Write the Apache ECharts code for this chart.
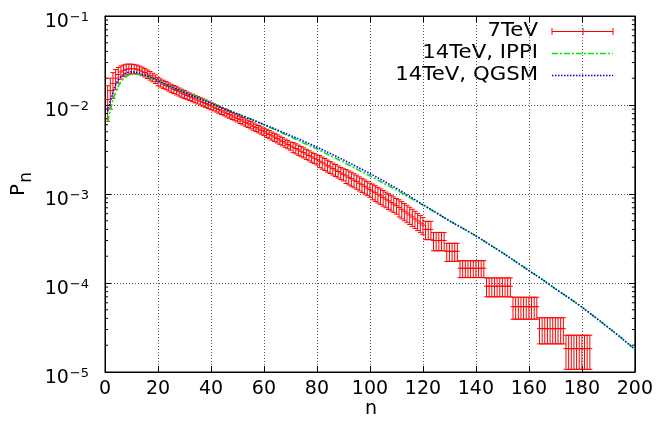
<!DOCTYPE html>
<html><head><meta charset="utf-8">
<script src="https://cdn.jsdelivr.net/npm/echarts@6/dist/echarts.min.js"></script>
<style>html,body{margin:0;padding:0;background:#fff}#c{width:656px;height:434px}</style>
</head><body><div id="c"></div>
<script>
// ---------- data ----------
const xTicks = [0, 20, 40, 60, 80, 100, 120, 140, 160, 180, 200];
const yTicks = [1e-5, 1e-4, 1e-3, 1e-2, 1e-1];
const yMinorTicks = [2e-5,3e-5,4e-5,5e-5,6e-5,7e-5,8e-5,9e-5,
  2e-4,3e-4,4e-4,5e-4,6e-4,7e-4,8e-4,9e-4,
  2e-3,3e-3,4e-3,5e-3,6e-3,7e-3,8e-3,9e-3,
  2e-2,3e-2,4e-2,5e-2,6e-2,7e-2,8e-2,9e-2];

const legendNames = ['7TeV', '14TeV, IPPI', '14TeV, QGSM'];

// 7 TeV measurement: multiplicity n, P_n, relative error
const redN = [1,2,3,4,5,6,7,8,9,10,11,12,13,14,15,16,17,18,19,20,
  21,22,23,24,25,26,27,28,29,30,31,32,33,34,35,36,37,38,39,40,
  41,42,43,44,45,46,47,48,49,50,51,52,53,54,55,56,57,58,59,60,
  61,62,63,64,65,66,67,68,69,70,71,72,73,74,75,76,77,78,79,80,
  81,82,83,84,85,86,87,88,89,90,91,92,93,94,95,96,97,98,99,100,
  101,102,103,104,105,106,107,108,109,110,111,112,113,114,115,116,117,118,119,120,
  121,122,123,124,125,126,127,128,129,130,131,132,133,
  134,135,136,137,138,139,140,141,142,143,
  144,145,146,147,148,149,150,151,152,153,
  154,155,156,157,158,159,160,161,162,163,
  164,165,166,167,168,169,170,171,172,173,
  174,175,176,177,178,179,180,181,182,183];
const redVal = [0.0115,0.0145,0.0175,0.0200,0.0220,0.0235,0.0245,0.0252,0.0255,0.0256,
  0.0255,0.0252,0.0247,0.0240,0.0232,0.0223,0.0214,0.0205,0.0196,0.0184,
  0.01778,0.01718,0.0166,0.01603,0.01549,0.0150,0.01452,0.01406,0.01361,0.01318,
  0.01279,0.01242,0.01205,0.01169,0.01135,0.01102,0.01069,0.01038,0.01007,0.00977,
  0.00946,0.00916,0.00887,0.00859,0.00832,0.00805,0.00780,0.00755,0.00731,0.00708,
  0.00684,0.00661,0.00638,0.00617,0.00596,0.00575,0.00556,0.00537,0.00519,0.00501,
  0.00483,0.00467,0.00450,0.00435,0.00419,0.00404,0.00389,0.00374,0.00360,0.00347,
  0.00335,0.00324,0.00313,0.00302,0.00292,0.00281,0.00271,0.00261,0.00252,0.00243,
  0.00234,0.00225,0.00217,0.00208,0.00201,0.00193,0.00186,0.00179,0.00172,0.00166,
  0.00160,0.00154,0.00149,0.00143,0.00138,0.00132,0.00127,0.00122,0.00117,0.00112,
  0.001076,0.001033,0.000991,0.000951,0.000912,0.000875,0.000839,0.000805,0.000773,0.000741,
  0.000706,0.000673,0.000641,0.000611,0.000582,0.000552,0.000524,0.000497,0.000471,0.000447,
  0.000400,0.000400,0.000400,
  0.000300,0.000300,0.000300,0.000300,0.000300,
  0.000227,0.000227,0.000227,0.000227,0.000227,
  0.0001465,0.0001465,0.0001465,0.0001465,0.0001465,0.0001465,0.0001465,0.0001465,0.0001465,0.0001465,
  0.000092,0.000092,0.000092,0.000092,0.000092,0.000092,0.000092,0.000092,0.000092,0.000092,
  0.0000542,0.0000542,0.0000542,0.0000542,0.0000542,0.0000542,0.0000542,0.0000542,0.0000542,0.0000542,
  0.0000307,0.0000307,0.0000307,0.0000307,0.0000307,0.0000307,0.0000307,0.0000307,0.0000307,0.0000307,
  0.0000183,0.0000183,0.0000183,0.0000183,0.0000183,0.0000183,0.0000183,0.0000183,0.0000183,0.0000183];
const redRelErr = [0.43,0.38,0.32,0.25,0.20,0.17,0.15,0.14,0.13,0.125,
  0.12,0.115,0.11,0.11,0.11,0.11,0.11,0.11,0.11,0.11,
  0.105,0.105,0.105,0.105,0.105,0.105,0.105,0.105,0.105,0.105,
  0.095,0.095,0.095,0.095,0.095,0.095,0.095,0.095,0.095,0.095,
  0.09,0.09,0.09,0.09,0.09,0.09,0.09,0.09,0.09,0.09,
  0.095,0.095,0.095,0.095,0.095,0.095,0.095,0.095,0.095,0.095,
  0.105,0.105,0.105,0.105,0.105,0.105,0.105,0.105,0.105,0.105,
  0.13,0.13,0.13,0.13,0.13,0.13,0.13,0.13,0.13,0.13,
  0.155,0.155,0.155,0.155,0.155,0.155,0.155,0.155,0.155,0.155,
  0.18,0.18,0.18,0.18,0.18,0.18,0.18,0.18,0.18,0.18,
  0.2,0.2,0.2,0.2,0.2,0.2,0.2,0.2,0.2,0.2,
  0.22,0.22,0.22,0.22,0.22,0.22,0.22,0.22,0.22,0.22,
  0.233,0.233,0.233,
  0.233,0.233,0.233,0.233,0.233,
  0.23,0.23,0.23,0.23,0.23,
  0.215,0.215,0.215,0.215,0.215,0.215,0.215,0.215,0.215,0.215,
  0.24,0.24,0.24,0.24,0.24,0.24,0.24,0.24,0.24,0.24,
  0.277,0.277,0.277,0.277,0.277,0.277,0.277,0.277,0.277,0.277,
  0.326,0.326,0.326,0.326,0.326,0.326,0.326,0.326,0.326,0.326,
  0.415,0.415,0.415,0.415,0.415,0.415,0.415,0.415,0.415,0.415];

// 14 TeV predictions
const curveN = [1,2,3,4,5,6,7,8,9,10,11,12,13,14,15,17,20,25,30,35,40,45,50,55,60,65,70,75,80,85,90,95,100,
  105,110,115,120,125,130,135,140,145,150,155,160,165,170,175,180,185,190,195,200];
const ippiVal = [0.0065,0.0086,0.0115,0.0138,0.0162,0.0182,0.0198,0.0209,0.0217,0.0221,0.0223,0.0223,0.0221,0.0217,0.0213,
  0.0203,0.0187,0.0160,0.0140,0.0122,0.0106,0.0092,0.0080,0.00695,0.0060,0.00515,0.0044,0.00375,0.0032,0.0027,0.00228,0.00191,0.0016,
  0.00133,0.00111,0.00091,0.00075,0.000617,0.0005,0.000412,0.000339,0.000272,0.000219,0.000174,0.000138,0.00011,0.000086,0.0000684,0.0000537,0.0000412,0.0000316,0.000024,0.000018];
const qgsmVal = [0.0085,0.011,0.014,0.0168,0.0192,0.021,0.0222,0.023,0.0234,0.0235,0.0234,0.0231,0.0227,0.0222,0.0217,
  0.0206,0.0188,0.0160,0.0138,0.0120,0.0104,0.0091,0.00795,0.00695,0.00605,0.00525,0.00455,0.00392,0.00336,0.00286,0.00242,0.00203,0.0017,
  0.00141,0.00116,0.00094,0.00076,0.000617,0.0005,0.000412,0.000339,0.000272,0.000219,0.000174,0.000138,0.00011,0.000086,0.0000684,0.0000537,0.0000412,0.0000316,0.000024,0.000018];

// ---------- chart ----------
const FONT = 'DejaVu Sans';
const chart = echarts.init(document.getElementById('c'), null, {renderer: 'canvas'});

const redData = redN.map((n, i) => [n, redVal[i], redVal[i] * redRelErr[i]]);
const gridLine = {show: true, lineStyle: {color: '#555', width: 1, type: [1, 2]}};
const supMinus = e => (e < 0 ? '\u2212' : '') + Math.abs(e);
const legendText = (txt, y) => ({type: 'text', x: 538, y: y, scaleX: 1.12, originX: 0, originY: 0,
  style: {text: txt, font: '19px "' + FONT + '"', fill: '#000', align: 'right', verticalAlign: 'middle'}});

const option = {
  animation: false,
  backgroundColor: '#fff',
  grid: {left: 105, right: 17, top: 14, bottom: 62, show: true, borderColor: '#000', borderWidth: 1},
  xAxis: [
    {type: 'value', min: xTicks[0], max: xTicks[xTicks.length - 1], interval: 20,
      axisLine: {show: true, onZero: false, lineStyle: {color: '#000', width: 1}},
      axisTick: {show: true, inside: true, length: 6, lineStyle: {color: '#000'}},
      axisLabel: {fontFamily: FONT, fontSize: 19, color: '#000', margin: 8},
      splitLine: gridLine},
    {type: 'value', position: 'top', min: xTicks[0], max: xTicks[xTicks.length - 1], interval: 20,
      axisLine: {show: true, onZero: false, lineStyle: {color: '#000', width: 1}},
      axisTick: {show: true, inside: true, length: 6, lineStyle: {color: '#000'}},
      axisLabel: {show: false}, splitLine: {show: false}}
  ],
  yAxis: [
    {type: 'log', logBase: 10, min: yTicks[0], max: yTicks[yTicks.length - 1],
      axisLine: {show: true, onZero: false, lineStyle: {color: '#000', width: 1}},
      axisTick: {show: true, inside: true, length: 6, lineStyle: {color: '#000'}},
      splitLine: gridLine,
      axisLabel: {margin: 16, lineHeight: 30, padding: [12, 0, 0, 0],
        formatter: v => '{b|10}{s|' + supMinus(Math.round(Math.log10(v))) + '}',
        rich: {
          b: {fontFamily: FONT, fontSize: 19, color: '#000', lineHeight: 20, verticalAlign: 'bottom'},
          s: {fontFamily: FONT, fontSize: 13, color: '#000', lineHeight: 14, verticalAlign: 'bottom', padding: [0, 0, 8, 1]}
        }}},
    {type: 'log', logBase: 10, position: 'right', min: yTicks[0], max: yTicks[yTicks.length - 1],
      axisLine: {show: true, onZero: false, lineStyle: {color: '#000', width: 1}},
      axisTick: {show: true, inside: true, length: 6, lineStyle: {color: '#000'}},
      axisLabel: {show: false}, splitLine: {show: false}}
  ],
  series: [
    {
      name: legendNames[0], type: 'custom', xAxisIndex: 0, yAxisIndex: 0, clip: true,
      encode: {x: 0, y: 1},
      data: redData,
      renderItem: (params, api) => {
        const n = api.value(0), v = api.value(1), e = api.value(2);
        const c = api.coord([n, v]);
        const t = api.coord([n, v + e]);
        const b = api.coord([n, Math.max(v - e, 1e-7)]);
        const w = 2.5;
        const st = {stroke: '#ff0000', lineWidth: 1, fill: null};
        return {type: 'group', children: [
          {type: 'line', shape: {x1: c[0], y1: t[1], x2: c[0], y2: b[1]}, style: st},
          {type: 'line', shape: {x1: c[0] - w, y1: t[1], x2: c[0] + w, y2: t[1]}, style: st},
          {type: 'line', shape: {x1: c[0] - w, y1: b[1], x2: c[0] + w, y2: b[1]}, style: st},
          {type: 'line', shape: {x1: c[0] - w, y1: c[1], x2: c[0] + w, y2: c[1]}, style: st}
        ]};
      }
    },
    {
      name: legendNames[1], type: 'line', showSymbol: false, smooth: false,
      data: curveN.map((n, i) => [n, ippiVal[i]]),
      lineStyle: {color: '#00ee00', width: 1.6, type: [6, 2, 2, 2]}
    },
    {
      name: legendNames[2], type: 'line', showSymbol: false, smooth: false,
      data: curveN.map((n, i) => [n, qgsmVal[i]]),
      lineStyle: {color: '#0000ff', width: 1.6, type: [1.5, 1.5]}
    },
    {
      name: 'minorTicks', type: 'custom', clip: false, silent: true,
      encode: {x: 0, y: 1},
      data: yMinorTicks.map(v => [xTicks[0], v]),
      renderItem: (params, api) => {
        const v = api.value(1);
        const l = api.coord([xTicks[0], v]);
        const r = api.coord([xTicks[xTicks.length - 1], v]);
        const st = {stroke: '#000', lineWidth: 1};
        return {type: 'group', children: [
          {type: 'line', shape: {x1: l[0], y1: l[1], x2: l[0] + 3, y2: l[1]}, style: st},
          {type: 'line', shape: {x1: r[0] - 3, y1: r[1], x2: r[0], y2: r[1]}, style: st}
        ]};
      }
    }
  ],
  graphic: [
    // axis titles
    {type: 'text', x: 371, y: 409, style: {text: 'n', font: '19px "' + FONT + '"', fill: '#000', align: 'center', verticalAlign: 'middle'}},
    {type: 'text', x: 22, y: 184, rotation: Math.PI / 2,
      style: {text: '{p|P}{n|n}', align: 'center', verticalAlign: 'middle',
        rich: {p: {fontFamily: FONT, fontSize: 20, fill: '#000', lineHeight: 26, verticalAlign: 'top'},
               n: {fontFamily: FONT, fontSize: 17, fill: '#000', lineHeight: 26, verticalAlign: 'bottom', padding: [0, 0, 0, 1]}}}},
    // legend
    legendText(legendNames[0], 31.5),
    legendText(legendNames[1], 53.5),
    legendText(legendNames[2], 75.5),
    {type: 'line', shape: {x1: 552, y1: 31.5, x2: 613, y2: 31.5}, style: {stroke: '#ff0000', lineWidth: 1}},
    {type: 'line', shape: {x1: 552, y1: 28, x2: 552, y2: 35}, style: {stroke: '#ff0000', lineWidth: 1}},
    {type: 'line', shape: {x1: 583, y1: 28, x2: 583, y2: 35}, style: {stroke: '#ff0000', lineWidth: 1}},
    {type: 'line', shape: {x1: 613, y1: 28, x2: 613, y2: 35}, style: {stroke: '#ff0000', lineWidth: 1}},
    {type: 'line', shape: {x1: 552, y1: 53.5, x2: 613, y2: 53.5}, style: {stroke: '#00ee00', lineWidth: 1.6, lineDash: [6, 2, 2, 2]}},
    {type: 'line', shape: {x1: 552, y1: 75.5, x2: 613, y2: 75.5}, style: {stroke: '#0000ff', lineWidth: 1.6, lineDash: [1.5, 1.5]}}
  ]
};
chart.setOption(option);
</script>
</body></html>
